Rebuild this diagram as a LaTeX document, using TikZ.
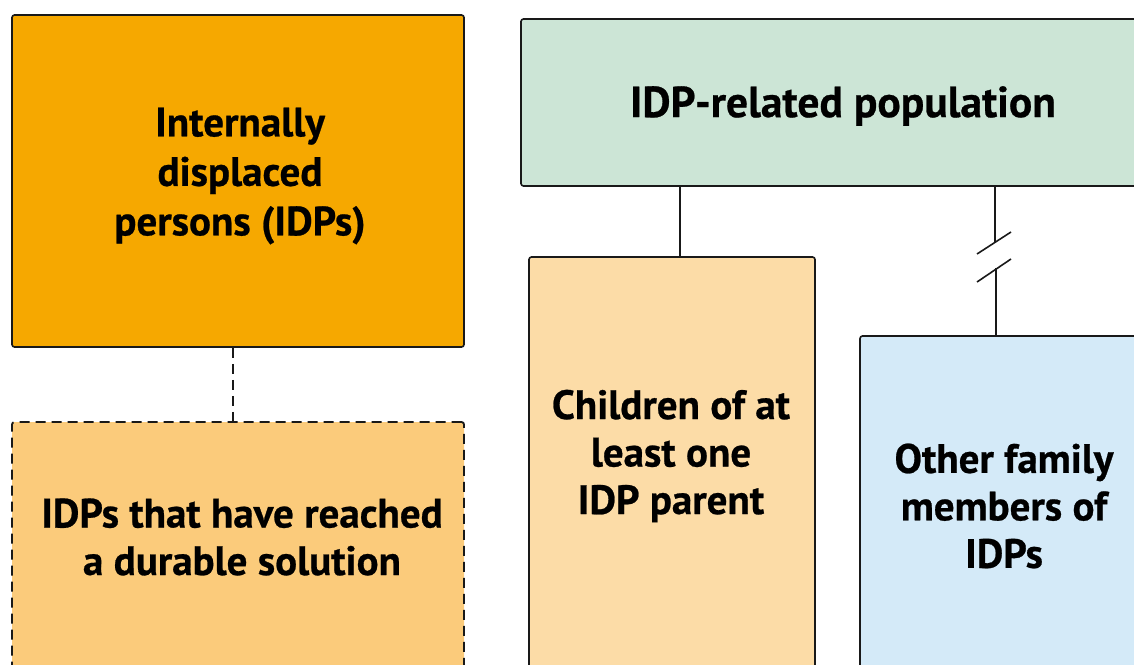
\documentclass[tikz,border=0pt]{standalone}
\usepackage{fontspec}
\setmainfont{PT Sans}[BoldFeatures={FakeBold=0.6}]
\definecolor{cOrange}{HTML}{F6A800}
\definecolor{cLight}{HTML}{FBCB7B}
\definecolor{cGreen}{HTML}{CCE5D6}
\definecolor{cPeach}{HTML}{FCDCA7}
\definecolor{cBlue}{HTML}{D4EAF8}
\tikzset{
  box/.style={draw=black!90, line width=1.6pt, rounded corners=2.5pt, inner sep=0pt},
  lbl/.style={font=\fontsize{41}{47.5}\selectfont\bfseries, align=center, inner sep=0pt},
  conn/.style={draw=black!90, line width=1.6pt},
  dsh/.style={line width=1.8pt, dash pattern=on 10pt off 6pt}
}
\begin{document}
\begin{tikzpicture}[x=1pt,y=-1pt]
\clip (0,0) rectangle (1134,664);
\fill[white] (0,0) rectangle (1134,664);
% boxes
\node[box, fill=cOrange, minimum width=452pt, minimum height=332pt] (idp) at (238,181) {};
\node[box, dsh, fill=cLight, minimum width=452pt, minimum height=330pt] (dur) at (238,587) {};
\node[box, fill=cGreen, minimum width=644pt, minimum height=167pt] (rel) at (843,102.5) {};
\node[box, fill=cPeach, minimum width=286pt, minimum height=470pt] (chi) at (672,492) {};
\node[box, fill=cBlue, minimum width=288pt, minimum height=400pt] (oth) at (1004,536) {};
% labels
\node[lbl, font=\fontsize{41}{49.5}\selectfont\bfseries] (tidp) at (240,176) {Internally\\displaced\\persons (IDPs)};
\node[lbl] (tdur) at (242,537) {IDPs that have reached\\a durable solution};
\node[lbl, font=\fontsize{43.5}{48}\selectfont\bfseries] (trel) at (843,106) {IDP-related population};
\node[lbl] (tchi) at (671,456) {Children of at\\least one\\IDP parent};
\node[lbl] (toth) at (1004,506) {Other family\\members of\\IDPs};
% connectors
\coordinate (d) at (233,0);
\draw[conn, dsh] (idp.south -| d) -- (dur.north -| d);
\coordinate (c) at (680,0);
\draw[conn] (rel.south -| c) -- (chi.north -| c);
\coordinate (b1) at (995,241.5);
\coordinate (b2) at (996,268);
\draw[conn] (rel.south -| b1) -- (b1);
\draw[conn] (b2) -- (oth.north -| b2);
\draw[conn] (977,254) -- (1011,232);
\draw[conn] (977,282) -- (1011,259);
\end{tikzpicture}
\end{document}
